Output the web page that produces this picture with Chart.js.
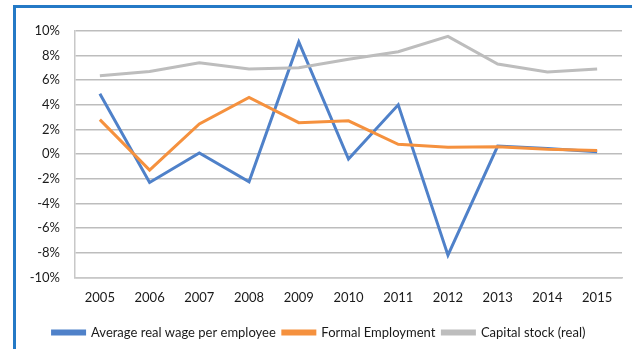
<!DOCTYPE html>
<html>
<head>
<meta charset="utf-8">
<script src="https://cdn.jsdelivr.net/npm/chart.js@4"></script>
<style>
  html, body { margin: 0; padding: 0; background: #fff; }
  body { width: 632px; height: 349px; overflow: hidden; position: relative; }
  .frame {
    position: absolute; left: 13px; top: 5px; width: 640px; height: 360px;
    border-left: 3px solid #2479c6; border-top: 3px solid #2479c6;
  }
  .box { position: absolute; left: 16px; top: 8px; width: 616px; height: 341px; }
</style>
</head>
<body>
<div class="frame"></div>
<div class="box"><canvas id="growth-chart"></canvas></div>
<script>
// Years on the x axis
const years = ["2005", "2006", "2007", "2008", "2009", "2010", "2011", "2012", "2013", "2014", "2015"];

// Annual growth rates, in percent
const wageGrowth = [4.9, -2.3, 0.1, -2.25, 9.1, -0.4, 4.0, -8.2, 0.65, 0.45, 0.2];
const employmentGrowth = [2.8, -1.3, 2.45, 4.6, 2.55, 2.7, 0.8, 0.55, 0.6, 0.4, 0.3];
const capitalGrowth = [6.35, 6.7, 7.4, 6.9, 7.0, 7.7, 8.3, 9.55, 7.3, 6.65, 6.9];

const seriesNames = ["Average real wage per employee", "Formal Employment", "Capital stock (real)"];
const yTicks = [-10, -8, -6, -4, -2, 0, 2, 4, 6, 8, 10];

const growthCanvas = document.getElementById("growth-chart");

const growthData = {
  labels: years,
  datasets: [
    {
      label: seriesNames[0],
      data: wageGrowth,
      borderColor: '#4f81c9',
      backgroundColor: '#4f81c9',
      order: 3
    },
    {
      label: seriesNames[1],
      data: employmentGrowth,
      borderColor: '#f5913e',
      backgroundColor: '#f5913e',
      order: 2
    },
    {
      label: seriesNames[2],
      data: capitalGrowth,
      borderColor: '#bdbdbd',
      backgroundColor: '#bdbdbd',
      order: 1
    }
  ]
};

const tickFont = { family: 'Lato, "Open Sans", sans-serif', size: 13 };

const growthOptions = {
  responsive: true,
  maintainAspectRatio: false,
  animation: false,
  layout: {
    padding: { left: 0, right: 10, top: 19, bottom: 0 }
  },
  elements: {
    line: { borderWidth: 3, tension: 0 },
    point: { radius: 0 }
  },
  scales: {
    x: {
      offset: true,
      grid: { display: false, drawTicks: false },
      border: { color: '#c8c8c8', width: 1.5 },
      ticks: { color: '#1a1a1a', font: tickFont, padding: 13, maxRotation: 0 }
    },
    y: {
      min: yTicks[0],
      max: yTicks[yTicks.length - 1],
      afterFit: (scale) => { scale.width = 59; },
      afterBuildTicks: (scale) => { scale.ticks = yTicks.map(v => ({ value: v })); },
      grid: { color: '#bdbdbd', lineWidth: 1.5, drawTicks: false },
      border: { color: '#c8c8c8', width: 1.5 },
      ticks: {
        color: '#1a1a1a',
        font: tickFont,
        padding: 15,
        callback: (v) => v + '%'
      }
    }
  },
  plugins: {
    legend: {
      position: 'bottom',
      labels: {
        boxWidth: 32,
        boxHeight: 3,
        padding: 7,
        color: '#1a1a1a',
        font: tickFont,
        sort: (a, b) => a.datasetIndex - b.datasetIndex
      }
    },
    tooltip: { enabled: false }
  }
};

const growthChart = new Chart(growthCanvas, {
  type: 'line',
  data: growthData,
  options: growthOptions
});
</script>
</body>
</html>
